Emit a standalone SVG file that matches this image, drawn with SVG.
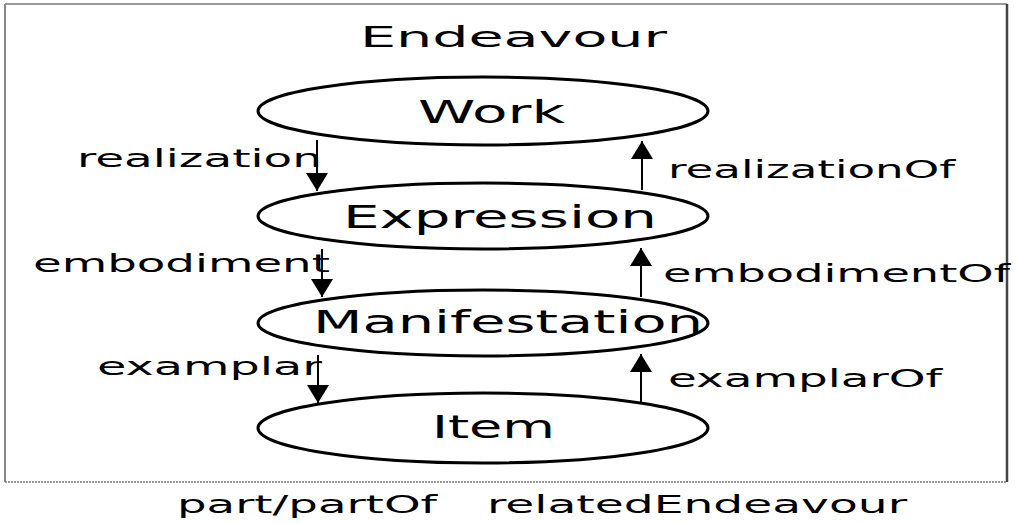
<svg xmlns="http://www.w3.org/2000/svg" width="1034" height="524" viewBox="0 0 1034 524">
<defs>
<marker id="ah" viewBox="0 0 18 22" refX="18" refY="11" markerWidth="18" markerHeight="22" markerUnits="userSpaceOnUse" orient="auto">
<path d="M0,0 L18,11 L0,22 Z" fill="#000"/>
</marker>
</defs>
<style>
text{font-family:"DejaVu Sans","Liberation Sans",sans-serif;fill:#000}
.node ellipse{fill:#fff;stroke:#000;stroke-width:3}
.big{font-size:32px}
.lbl{font-size:24px}
.conn line{stroke:#000;stroke-width:2;marker-end:url(#ah)}
</style>
<rect width="1034" height="524" fill="#fff"/>
<g id="frame">
<line x1="5" y1="4" x2="1007" y2="4" stroke="#999" stroke-width="2"/>
<line x1="5" y1="4" x2="5" y2="482" stroke="#888" stroke-width="2"/>
<line x1="1007" y1="4" x2="1007" y2="482" stroke="#444" stroke-width="2.5"/>
<line x1="5" y1="482" x2="1007" y2="482" stroke="#777" stroke-width="1.5" stroke-dasharray="2 1"/>
<text x="360" y="47" font-size="28" textLength="307" lengthAdjust="spacingAndGlyphs">Endeavour</text>
</g>
<g id="work" class="node">
<ellipse cx="483" cy="111" rx="225" ry="34"/>
<text class="big" x="418" y="123" textLength="147" lengthAdjust="spacingAndGlyphs">Work</text>
</g>
<g id="expression" class="node">
<ellipse cx="483" cy="216" rx="225" ry="33"/>
<text class="big" x="343" y="228" textLength="314" lengthAdjust="spacingAndGlyphs">Expression</text>
</g>
<g id="manifestation" class="node">
<ellipse cx="483" cy="323" rx="225" ry="33"/>
<text class="big" x="313" y="333" textLength="390" lengthAdjust="spacingAndGlyphs">Manifestation</text>
</g>
<g id="item" class="node">
<ellipse cx="483" cy="428" rx="225" ry="35"/>
<text class="big" x="432" y="438" textLength="123" lengthAdjust="spacingAndGlyphs">Item</text>
</g>
<g id="connectors" class="conn">
<line x1="317" y1="140" x2="317" y2="191"/>
<line x1="642" y1="190" x2="642" y2="141"/>
<line x1="322" y1="249" x2="322" y2="297"/>
<line x1="641" y1="297" x2="641" y2="248"/>
<line x1="318" y1="355" x2="318" y2="403"/>
<line x1="641" y1="402" x2="641" y2="354"/>
</g>
<g id="labels">
<text class="lbl" x="77" y="167" textLength="245" lengthAdjust="spacingAndGlyphs">realization</text>
<text class="lbl" x="668" y="178" textLength="287" lengthAdjust="spacingAndGlyphs">realizationOf</text>
<text class="lbl" x="33" y="272" textLength="297" lengthAdjust="spacingAndGlyphs">embodiment</text>
<text class="lbl" x="663" y="282" textLength="347" lengthAdjust="spacingAndGlyphs">embodimentOf</text>
<text class="lbl" x="97" y="375" textLength="225" lengthAdjust="spacingAndGlyphs">examplar</text>
<text class="lbl" x="668" y="387" textLength="274" lengthAdjust="spacingAndGlyphs">examplarOf</text>
<text class="lbl" x="177" y="513" textLength="260" lengthAdjust="spacingAndGlyphs">part/partOf</text>
<text class="lbl" x="487" y="513" textLength="420" lengthAdjust="spacingAndGlyphs">relatedEndeavour</text>
</g>
</svg>
